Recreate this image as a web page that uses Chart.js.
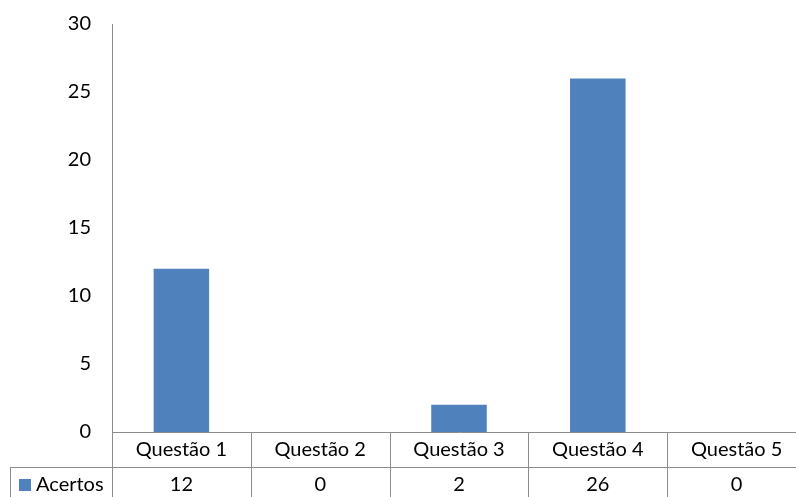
<!DOCTYPE html>
<html>
<head>
<meta charset="utf-8">
<script src="https://cdn.jsdelivr.net/npm/chart.js@4/dist/chart.umd.min.js"></script>
<style>
html,body{margin:0;padding:0;background:#fff;overflow:hidden;width:796px;height:497px;}
canvas{display:block;}
</style>
</head>
<body>
<canvas id="c" width="806" height="497"></canvas>
<script>
const categories = ['Questão 1', 'Questão 2', 'Questão 3', 'Questão 4', 'Questão 5'];
const seriesName = 'Acertos';
const acertos = [12, 0, 2, 26, 0];
const yMin = 0, yMax = 30, yStep = 5;

const FONT = 'Lato';
const FSIZE = 20;
const LINE = '#8c8c8c';
const BAR = '#4F81BD';

const tablePlugin = {
  id: 'dataTable',
  afterDraw(chart) {
    const ctx = chart.ctx;
    const xs = chart.scales.x;
    const area = chart.chartArea;
    const step = xs.getPixelForValue(1) - xs.getPixelForValue(0);
    const half = step / 2;
    const top = area.bottom;
    const rowH = 35;
    const mid = top + rowH;
    const bottom = top + rowH * 2;
    ctx.save();
    ctx.strokeStyle = LINE;
    ctx.lineWidth = 1;
    ctx.beginPath();
    for (let i = 0; i <= categories.length; i++) {
      const x = Math.round(xs.getPixelForValue(i) - half) + 0.5;
      ctx.moveTo(x, top);
      ctx.lineTo(x, bottom);
    }
    ctx.moveTo(10, Math.round(mid) + 0.5);
    ctx.lineTo(chart.width, Math.round(mid) + 0.5);
    ctx.moveTo(10.5, mid);
    ctx.lineTo(10.5, bottom);
    ctx.stroke();

    ctx.fillStyle = '#000';
    ctx.font = FSIZE + 'px ' + FONT;
    ctx.textAlign = 'center';
    ctx.textBaseline = 'middle';
    categories.forEach((c, i) => {
      const x = xs.getPixelForValue(i);
      ctx.fillText(c, x, top + rowH / 2);
      ctx.fillText(String(acertos[i]), x, mid + rowH / 2);
    });
    ctx.fillStyle = BAR;
    ctx.fillRect(19, mid + 12, 12, 12);
    ctx.fillStyle = '#000';
    ctx.textAlign = 'left';
    ctx.fillText(seriesName, 36, mid + rowH / 2);
    ctx.restore();
  }
};

new Chart(document.getElementById('c'), {
  type: 'bar',
  data: {
    labels: categories,
    datasets: [{
      label: seriesName,
      data: acertos,
      backgroundColor: BAR,
      borderWidth: 0,
      barPercentage: 0.4,
      categoryPercentage: 1.0
    }]
  },
  options: {
    responsive: false,
    animation: false,
    devicePixelRatio: 1,
    layout: { padding: { top: 24, bottom: 65, left: 0, right: 0 } },
    plugins: { legend: { display: false }, tooltip: { enabled: false } },
    scales: {
      x: {
        offset: true,
        grid: { display: false, drawTicks: false },
        border: { display: true, color: LINE, width: 1 },
        ticks: { display: false }
      },
      y: {
        min: yMin, max: yMax,
        grid: { display: false, drawTicks: false },
        border: { display: true, color: LINE, width: 1 },
        ticks: {
          stepSize: yStep,
          padding: 21,
          color: '#000',
          font: { family: FONT, size: FSIZE }
        },
        afterFit(scale) {
          scale.width = 112;
          scale.paddingTop = 0;
          scale.paddingBottom = 0;
        }
      }
    }
  },
  plugins: [tablePlugin]
});
</script>
</body>
</html>
